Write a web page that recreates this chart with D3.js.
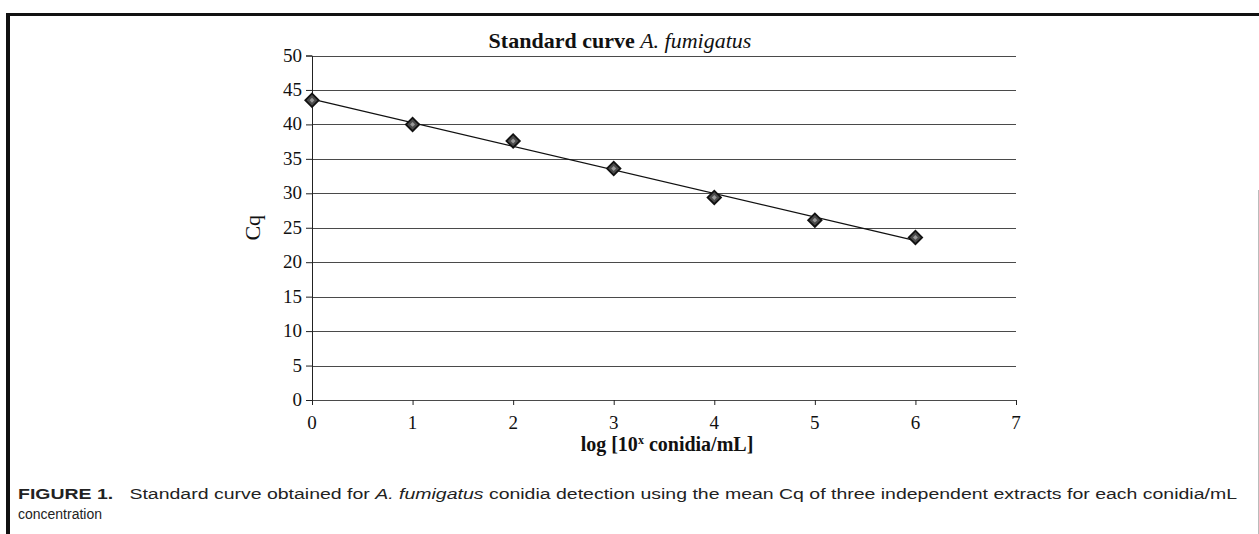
<!DOCTYPE html>
<html>
<head>
<meta charset="utf-8">
<script src="https://cdn.jsdelivr.net/npm/d3@7"></script>
<style>
  body { margin: 0; background: #fff; }
  svg { display: block; }
</style>
</head>
<body>
<svg width="1259" height="534"></svg>
<script>
// data
const concentrations = [0, 1, 2, 3, 4, 5, 6];
const cqValues = [43.5, 40.0, 37.6, 33.6, 29.4, 26.1, 23.6];
const xTicks = [0, 1, 2, 3, 4, 5, 6, 7];
const yTicks = [0, 5, 10, 15, 20, 25, 30, 35, 40, 45, 50];

const svg = d3.select("svg");
const width = +svg.attr("width");
const height = +svg.attr("height");

const serif = "'Liberation Serif', 'Times New Roman', serif";
const sans = "'Liberation Sans', Arial, Helvetica, sans-serif";

// page frame
svg.append("line").attr("x1", 6).attr("x2", width).attr("y1", 14.5).attr("y2", 14.5)
  .attr("stroke", "#111").attr("stroke-width", 3);
svg.append("line").attr("x1", 8).attr("x2", 8).attr("y1", 13).attr("y2", height)
  .attr("stroke", "#111").attr("stroke-width", 4);
svg.append("line").attr("x1", 1258.5).attr("x2", 1258.5).attr("y1", 190).attr("y2", height)
  .attr("stroke", "#bbb").attr("stroke-width", 1);

const margin = { top: 55.5, left: 312, right: width - 1016, bottom: height - 400 };
const innerWidth = width - margin.left - margin.right;
const innerHeight = height - margin.top - margin.bottom;

// scales in page coordinates
const xScale = d3.scaleLinear().domain([0, 7]).range([margin.left, margin.left + innerWidth]);
const yScale = d3.scaleLinear().domain([0, 50]).range([margin.top + innerHeight, margin.top]);

// horizontal gridlines
svg.append("g")
  .selectAll("line")
  .data(yTicks)
  .enter()
  .append("line")
  .attr("x1", margin.left)
  .attr("x2", margin.left + innerWidth)
  .attr("y1", (d) => Math.round(yScale(d)) + 0.5)
  .attr("y2", (d) => Math.round(yScale(d)) + 0.5)
  .attr("stroke", "#4a4a4a")
  .attr("stroke-width", 1.2);

// axes: d3 draws the lines and ticks, labels are set as plain text from the same scales
const yAxis = svg.append("g")
  .attr("transform", `translate(${margin.left},0)`)
  .call(d3.axisLeft(yScale).tickValues(yTicks).tickSize(6));
yAxis.select(".domain").attr("stroke", "#222");
yAxis.selectAll(".tick line").attr("stroke", "#222");
yAxis.selectAll(".tick text").remove();

const xAxis = svg.append("g")
  .attr("transform", `translate(0,${margin.top + innerHeight})`)
  .call(d3.axisBottom(xScale).tickValues(xTicks).tickSize(5));
xAxis.select(".domain").remove();
xAxis.selectAll(".tick line").attr("stroke", "#222");
xAxis.selectAll(".tick text").remove();

svg.append("g")
  .selectAll("text")
  .data(yTicks)
  .enter()
  .append("text")
  .attr("x", margin.left - 10)
  .attr("y", (d) => yScale(d) + 6)
  .attr("text-anchor", "end")
  .attr("font-family", serif)
  .attr("font-size", 19)
  .attr("fill", "#111")
  .text((d) => d);

svg.append("g")
  .selectAll("text")
  .data(xTicks)
  .enter()
  .append("text")
  .attr("x", (d) => xScale(d))
  .attr("y", margin.top + innerHeight + 29)
  .attr("text-anchor", "middle")
  .attr("font-family", serif)
  .attr("font-size", 19)
  .attr("fill", "#111")
  .text((d) => d);

// linear trendline from least squares fit
const mx = d3.mean(concentrations);
const my = d3.mean(cqValues);
let sxy = 0, sxx = 0;
concentrations.forEach((x, i) => {
  sxy += (x - mx) * (cqValues[i] - my);
  sxx += (x - mx) * (x - mx);
});
const slope = sxy / sxx;
const intercept = my - slope * mx;
const xMin = d3.min(concentrations);
const xMax = d3.max(concentrations);

svg.append("line")
  .attr("x1", xScale(xMin))
  .attr("y1", yScale(intercept + slope * xMin))
  .attr("x2", xScale(xMax))
  .attr("y2", yScale(intercept + slope * xMax))
  .attr("stroke", "#111")
  .attr("stroke-width", 1.3);

// diamond markers
const points = svg.selectAll(".pt")
  .data(concentrations.map((x, i) => ({ x: x, y: cqValues[i] })))
  .enter()
  .append("g")
  .attr("class", "pt")
  .attr("transform", (d) => `translate(${xScale(d.x)},${yScale(d.y)}) rotate(45)`);
points.append("path")
  .attr("d", d3.symbol().type(d3.symbolSquare).size(90))
  .attr("fill", "#4a4a4a")
  .attr("stroke", "#111")
  .attr("stroke-width", 1.8);
points.append("path")
  .attr("d", d3.symbol().type(d3.symbolSquare).size(12))
  .attr("fill", "#999");

// titles
const title = svg.append("text")
  .attr("x", 620)
  .attr("y", 48)
  .attr("text-anchor", "middle")
  .attr("font-family", serif)
  .attr("font-size", 22)
  .attr("font-weight", "bold")
  .attr("fill", "#111");
title.append("tspan").text("Standard curve ");
title.append("tspan").attr("font-style", "italic").attr("font-weight", "normal").text("A. fumigatus");

const xLabel = svg.append("text")
  .attr("x", 667)
  .attr("y", 451)
  .attr("text-anchor", "middle")
  .attr("font-family", serif)
  .attr("font-size", 20)
  .attr("font-weight", "bold")
  .attr("fill", "#111");
xLabel.append("tspan").text("log [10");
xLabel.append("tspan").attr("font-size", 12).attr("dy", -7).text("x");
xLabel.append("tspan").attr("dy", 7).text(" conidia/mL]");

svg.append("text")
  .attr("transform", `translate(260,${margin.top + innerHeight / 2}) rotate(-90)`)
  .attr("text-anchor", "middle")
  .attr("font-family", serif)
  .attr("font-size", 22)
  .attr("fill", "#111")
  .text("Cq");

// figure caption
const cap1 = svg.append("text")
  .attr("x", 18)
  .attr("y", 499)
  .attr("font-family", sans)
  .attr("font-size", 14)
  .attr("fill", "#222")
  .attr("textLength", 1219)
  .attr("lengthAdjust", "spacingAndGlyphs");
cap1.append("tspan").attr("font-weight", "bold").text("FIGURE 1.");
cap1.append("tspan").text("\u00a0\u00a0\u00a0Standard curve obtained for ");
cap1.append("tspan").attr("font-style", "italic").text("A. fumigatus");
cap1.append("tspan").text(" conidia detection using the mean Cq of three independent extracts for each conidia/mL");

svg.append("text")
  .attr("x", 18)
  .attr("y", 519)
  .attr("font-family", sans)
  .attr("font-size", 14)
  .attr("fill", "#222")
  .attr("textLength", 84)
  .attr("lengthAdjust", "spacingAndGlyphs")
  .text("concentration");
</script>
</body>
</html>
